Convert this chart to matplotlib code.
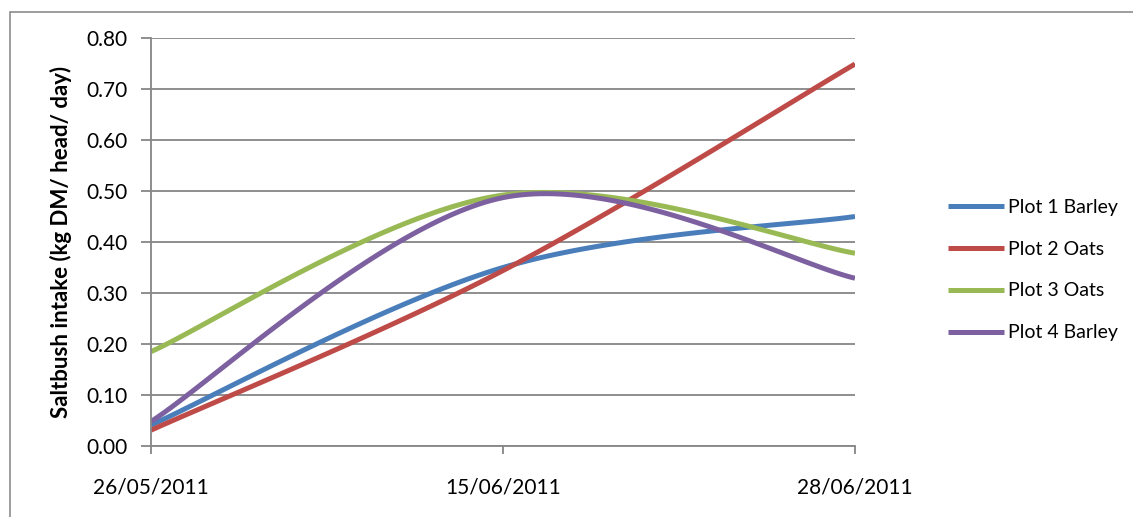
import numpy as np
import matplotlib.pyplot as plt
from matplotlib.patches import Rectangle

dates = ['26/05/2011', '15/06/2011', '28/06/2011']
plot1_barley = [0.041, 0.350, 0.450]
plot2_oats = [0.031, 0.344, 0.749]
plot3_oats = [0.185, 0.492, 0.378]
plot4_barley = [0.048, 0.487, 0.329]

series = [
    ('Plot 1 Barley', plot1_barley, '#4A7EBB'),
    ('Plot 2 Oats', plot2_oats, '#BE4B48'),
    ('Plot 3 Oats', plot3_oats, '#98B954'),
    ('Plot 4 Barley', plot4_barley, '#7D60A0'),
]


def smooth(xs, ys, n=60):
    # spreadsheet-style smoothed line: cubic Bezier segments with Catmull-Rom handles
    p = np.column_stack([xs, ys]).astype(float)
    p = np.vstack([p[0], p, p[-1]])
    out = []
    for i in range(1, len(p) - 2):
        p0, p1, p2, p3 = p[i - 1], p[i], p[i + 1], p[i + 2]
        c1 = p1 + (p2 - p0) / 6
        c2 = p2 - (p3 - p1) / 6
        t = np.linspace(0, 1, n)[:, None]
        seg = ((1 - t) ** 3 * p1 + 3 * (1 - t) ** 2 * t * c1
               + 3 * (1 - t) * t ** 2 * c2 + t ** 3 * p2)
        out.append(seg if i == 1 else seg[1:])
    seg = np.vstack(out)
    return seg[:, 0], seg[:, 1]


plt.rcParams['font.family'] = ['Lato', 'DejaVu Sans']

fig = plt.figure(figsize=(11.33, 5.17), dpi=100)
fig.patches.append(Rectangle((10 / 1133, -0.1), 1.2, 1 - 12 / 517 + 0.1,
                             transform=fig.transFigure, fill=False,
                             edgecolor='#8c8c8c', linewidth=1.2))
ax = fig.add_axes([151 / 1133, 1 - 446 / 517, (855 - 151) / 1133, (446 - 38) / 517])

x = np.arange(len(dates))
for name, vals, col in series:
    sx, sy = smooth(x, vals)
    ax.plot(sx, sy, color=col, linewidth=3.6, label=name, solid_capstyle='butt')

ax.set_xlim(0, 2)
ax.set_ylim(0, 0.8)
ax.set_yticks(np.arange(0, 0.81, 0.1))
ax.set_yticklabels([f'{v:.2f}' for v in np.arange(0, 0.81, 0.1)])
ax.set_xticks(x)
ax.set_xticklabels(dates)
ax.grid(axis='y', color='#868686', linewidth=1.3)
ax.set_axisbelow(True)
for s in ['top', 'right']:
    ax.spines[s].set_visible(False)
for s in ['left', 'bottom']:
    ax.spines[s].set_color('#868686')
    ax.spines[s].set_linewidth(1.3)
ax.tick_params(axis='y', length=7, width=1.3, color='#868686', labelsize=15, pad=10)
ax.tick_params(axis='x', length=6, width=1.3, color='#868686', labelsize=15, pad=17)
ax.set_ylabel('Saltbush intake (kg DM/ head/ day)', fontsize=16, fontweight='bold', labelpad=10)

ax.legend(loc='center left', bbox_to_anchor=(930 / 1133, 1 - 270 / 517),
          bbox_transform=fig.transFigure, frameon=False, fontsize=14,
          handlelength=2.9, handletextpad=0.2, labelspacing=1.28)

fig.savefig('out.png', dpi=100)
